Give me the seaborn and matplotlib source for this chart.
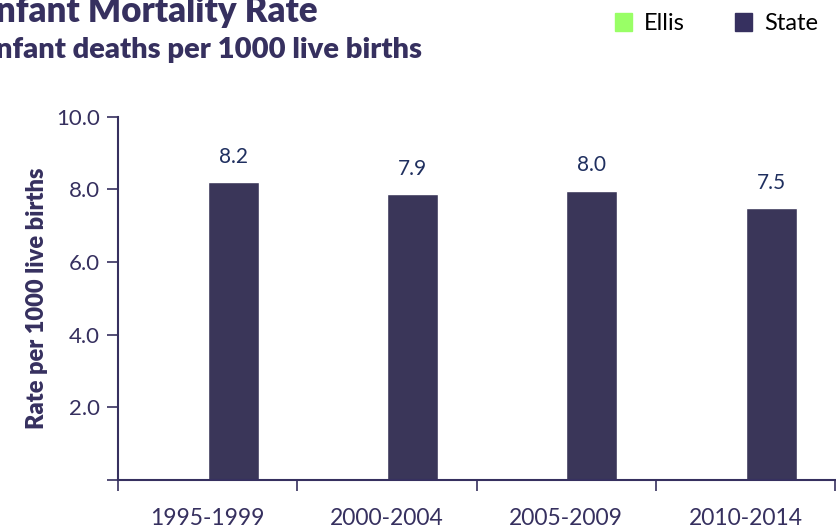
import matplotlib

matplotlib.use("Agg")
import matplotlib.pyplot as plt
import numpy as np
import pandas as pd
import seaborn as sns
from matplotlib.patches import Patch

# data
periods = ["1995-1999", "2000-2004", "2005-2009", "2010-2014"]
ellis = [np.nan, np.nan, np.nan, np.nan]
state = [8.21, 7.87, 7.97, 7.48]

PURPLE = "#36305f"
GREEN = "#99ff66"
LABEL_BLUE = "#1f2f5f"

sns.set_theme(style="white")
plt.rcParams["font.family"] = ["Lato", "DejaVu Sans"]

df = pd.DataFrame({
    "period": periods * 2,
    "area": ["Ellis"] * len(periods) + ["State"] * len(periods),
    "rate": ellis + state,
})

fig = plt.figure(figsize=(8.36, 5.31), dpi=100)
ax = fig.add_axes([0.141, 0.096, 0.858, 0.684])

sns.barplot(data=df, x="period", y="rate", hue="area",
            hue_order=["Ellis", "State"], palette=[GREEN, PURPLE],
            width=0.57, legend=False, ax=ax)
ax.bar_label(ax.containers[1], fmt="%.1f", padding=11,
             fontsize=15, color=LABEL_BLUE)

ax.set_ylim(0, 10)
ax.set_xlim(-0.5, len(periods) - 0.5)
ax.set_yticks(np.arange(0, 10.1, 2))
ax.set_yticklabels([""] + [f"{v:.1f}" for v in np.arange(2, 10.1, 2)])
ax.set_xticks(np.arange(len(periods)))
ax.set_xticklabels(periods)
ax.set_xticks(np.arange(-0.5, len(periods)), minor=True)
ax.tick_params(axis="x", which="major", length=0, pad=20,
               labelsize=16.5, labelcolor=PURPLE)
ax.tick_params(axis="x", which="minor", length=8, width=1.2,
               color=PURPLE, direction="out", bottom=True)
ax.tick_params(axis="y", length=8, width=1.2, color=PURPLE,
               direction="out", left=True, labelsize=16,
               labelcolor=PURPLE, pad=5)
for side in ("top", "right"):
    ax.spines[side].set_visible(False)
for side in ("left", "bottom"):
    ax.spines[side].set_color(PURPLE)
    ax.spines[side].set_linewidth(1.5)

ax.set_xlabel("")
ax.set_ylabel("Rate per 1000 live births", fontsize=17,
              fontweight="heavy", color=PURPLE, labelpad=6)

fig.text(-0.018, 0.978, "Infant Mortality Rate", fontsize=25,
         fontweight="heavy", color=PURPLE, va="center", ha="left")
fig.text(-0.016, 0.905, "Infant deaths per 1000 live births",
         fontsize=21, fontweight="heavy", color=PURPLE,
         va="center", ha="left")

handles = [Patch(color=GREEN, label="Ellis"),
           Patch(color=PURPLE, label="State")]
fig.legend(handles=handles, loc="upper right", ncol=2,
           bbox_to_anchor=(1.004, 1.015), frameon=False, fontsize=17,
           handlelength=0.75, handleheight=0.75, columnspacing=2.1,
           handletextpad=0.5, labelcolor="black")

fig.savefig("out.png", dpi=100)
